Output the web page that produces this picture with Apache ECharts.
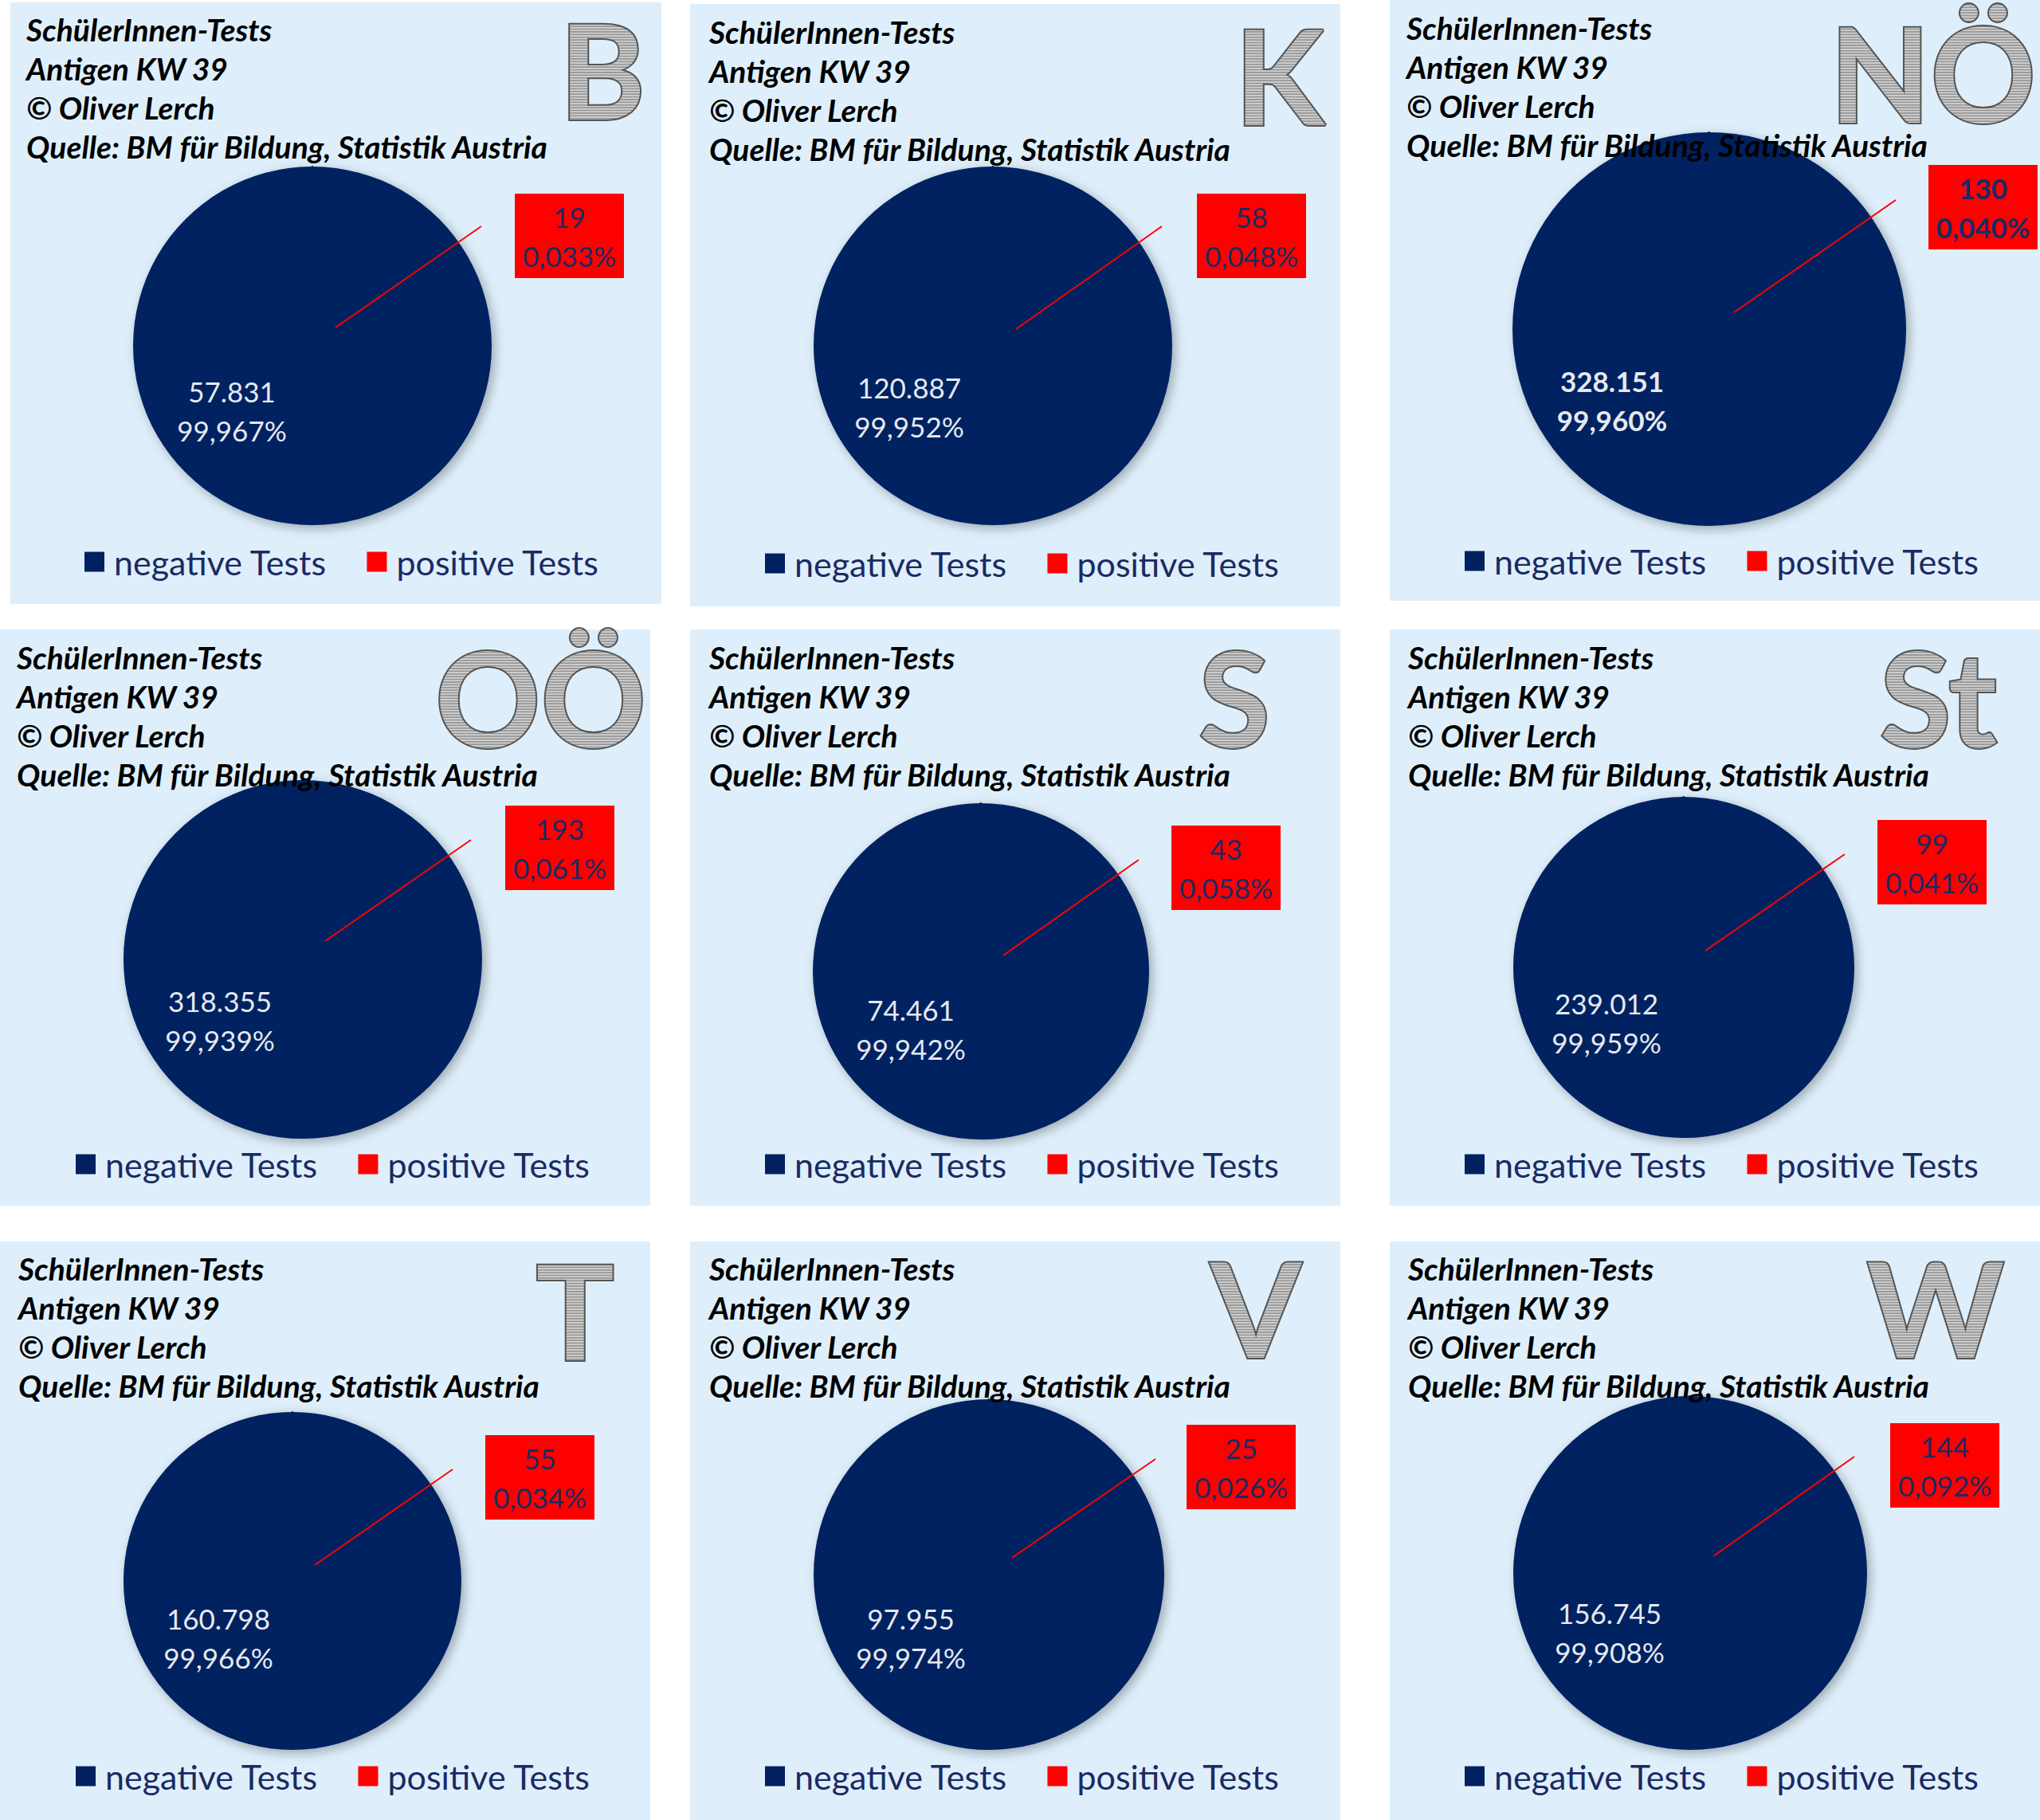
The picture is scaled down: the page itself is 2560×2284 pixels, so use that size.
<!DOCTYPE html>
<html><head><meta charset="utf-8">
<script src="https://cdn.jsdelivr.net/npm/echarts@6/dist/echarts.min.js"></script>
<style>html,body{margin:0;padding:0;background:#fff}#c{width:2560px;height:2284px}#defs{position:absolute;left:0;top:0}</style>
</head><body>
<svg id="defs" width="0" height="0">
  <defs>
    <pattern id="stripes" patternUnits="userSpaceOnUse" x="0" y="0" width="8" height="3.4">
      <rect x="0" y="0" width="8" height="1.7" fill="#d2d2d2"/>
      <rect x="0" y="1.7" width="8" height="1.7" fill="#959595"/>
    </pattern>
  </defs>
</svg>
<div id="c"></div>
<script>
// ---------- data ----------
const regions = ['B','K','NÖ','OÖ','S','St','T','V','W'];
const categories = ['negative Tests','positive Tests'];
const negativeTests = [57831,120887,328151,318355,74461,239012,160798,97955,156745];
const positiveTests = [19,58,130,193,43,99,55,25,144];
const titleLines = ['SchülerInnen-Tests','Antigen KW 39','© Oliver Lerch','Quelle: BM für Bildung, Statistik Austria'];

// ---------- layout (pixels) ----------
const panels = [[13,3,817,755],[866,5,816,756],[1744,0,816,754],[0,790,816,723],[866,790,816,723],[1744,790,816,723],[0,1558,816,726],[866,1558,816,726],[1744,1558,816,726]];
const pies = [[392,434,225],[1246,434,225],[2145,413,247],[380,1204,225],[1231,1219,211],[2113,1214,214],[367,1984,212],[1241,1976,220],[2121,1974,222]];
const boxes = [[646,243],[1502,243],[2420,207],[634,1011],[1470,1036],[2356,1029],[609,1801],[1489,1788],[2372,1786]];
const leaders = [[421,411,604,284],[1275,413,1458,284],[2176,392,2379,251],[408,1181,591,1054],[1259,1199,1429,1079],[2140,1193,2315,1072],[395,1964,568,1844],[1270,1955,1450,1831],[2150,1953,2327,1828]];
const negLab = [[291,515],[1141,510],[2023,502],[276,1280],[1143,1291],[2016,1283],[274,2055],[1143,2055],[2020,2048]];
const titlePos = [[33,37],[890,40],[1765,35],[21,825],[890,825],[1767,825],[23,1592],[890,1592],[1767,1592]];
const legendPos = [[106,705],[960,707],[1838,704],[95,1461],[960,1461],[1838,1461],[95,2229],[960,2229],[1838,2229]];
const letterPos = [[810,86],[1662,93],[2555,90],[811,874],[1594,874],[2506,874],[771,1643],[1633,1640],[2515,1640]];
const boldLabels = [false,false,true,false,false,false,false,false,false];

const NAVY = '#002060', RED = '#FF0000', BG = '#DEEFFB', TXT = '#1b2a63';
const FONT = 'Lato';

function fmtInt(v){ return String(Math.round(v)).replace(/\B(?=(\d{3})+(?!\d))/g,'.'); }
function fmtPct(p){ return p.toFixed(3).replace('.',',') + '%'; }

const series = [], titles = [], legends = [], graphics = [];
regions.forEach((r, i) => {
  const [px,py,pw,ph] = panels[i];
  graphics.push({type:'rect', z:-10, shape:{x:px,y:py,width:pw,height:ph}, style:{fill:BG}});
  const [x1,y1,x2,y2] = leaders[i];
  graphics.push({type:'line', z:100, shape:{x1,y1,x2,y2}, style:{stroke:RED, lineWidth:2}});
  graphics.push({type:'text', z:5, style:{text:r, x:letterPos[i][0], y:letterPos[i][1], align:'right', verticalAlign:'middle',
    font:'bold 164px ' + FONT, fill:'url(#stripes)', stroke:'#555555', lineWidth:4, lineJoin:'round'}});

  titles.push({text: titleLines.join('\n'), left: titlePos[i][0], top: titlePos[i][1]-24.5, padding:0,
    textStyle:{fontFamily:FONT, fontStyle:'italic', fontWeight:'bold', fontSize:39, lineHeight:49, color:'#000'}});

  legends.push({data: categories, left: legendPos[i][0], top: legendPos[i][1]-22, padding:0, itemGap:50,
    itemWidth:25, itemHeight:25, icon:'rect', selectedMode:false,
    itemStyle:{borderWidth:0},
    textStyle:{fontFamily:FONT, fontSize:43, lineHeight:44, color:TXT, padding:[0,0,0,7]}});

  const bw = boldLabels[i] ? 'bold' : 'normal';
  const [cx,cy,rad] = pies[i];
  series.push({
    type:'pie', name:r, center:[cx,cy], radius:rad, startAngle:90, clockwise:true,
    percentPrecision:3, avoidLabelOverlap:false, silent:true,
    itemStyle:{shadowBlur:14, shadowColor:'rgba(0,0,0,0.3)', shadowOffsetX:4, shadowOffsetY:4},
    labelLine:{show:false},
    label:{show:true, position:'inside', fontFamily:FONT, fontSize:35, lineHeight:49, fontWeight:bw,
      formatter: p => fmtInt(p.value) + '\n' + fmtPct(p.percent)},
    labelLayout: (p) => {
      if (p.dataIndex === 0) return {x: negLab[i][0], y: negLab[i][1], align:'center', verticalAlign:'middle'};
      return {x: boxes[i][0] + 68.5, y: boxes[i][1] + 53, align:'center', verticalAlign:'middle'};
    },
    data:[
      {name:categories[0], value:negativeTests[i], itemStyle:{color:NAVY}, label:{color:'#E6E9F0'}},
      {name:categories[1], value:positiveTests[i], itemStyle:{color:RED, borderColor:NAVY, borderWidth:2},
        label:{color:TXT, backgroundColor:RED, width:137, padding:[4,0,4,0], align:'center'}}
    ]
  });
});

const chart = echarts.init(document.getElementById('c'), null, {renderer:'svg'});
chart.setOption({
  backgroundColor:'#ffffff',
  animation:false,
  color:[NAVY, RED],
  title: titles,
  legend: legends,
  graphic: {elements: graphics},
  series: series
});
</script></body></html>
